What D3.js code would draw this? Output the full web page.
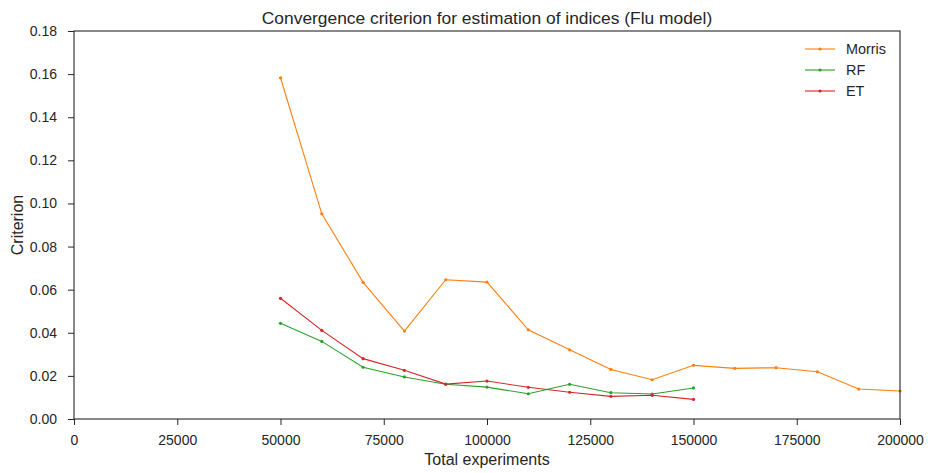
<!DOCTYPE html>
<html>
<head>
<meta charset="utf-8">
<script src="https://cdn.jsdelivr.net/npm/d3@7"></script>
<style>
  body { margin: 0; background: #fff; }
  svg { font-family: "Liberation Sans", Arial, sans-serif; }
  .axis path, .axis line { stroke: #262626; }
  .axis text { fill: #262626; font-size: 14px; }
</style>
</head>
<body>
<svg id="chart" width="928" height="473"></svg>
<script>
// experiment counts for each series
var morrisX = [50000, 60000, 70000, 80000, 90000, 100000, 110000, 120000, 130000, 140000, 150000, 160000, 170000, 180000, 190000, 200000];
var morrisY = [0.1583, 0.0952, 0.0634, 0.0408, 0.0646, 0.0635, 0.0414, 0.0321, 0.0230, 0.0182, 0.0249, 0.0235, 0.0238, 0.0219, 0.0139, 0.0130];
var treeX = [50000, 60000, 70000, 80000, 90000, 100000, 110000, 120000, 130000, 140000, 150000];
var rfY = [0.0444, 0.0360, 0.0240, 0.0195, 0.0161, 0.0148, 0.0117, 0.0161, 0.0122, 0.0116, 0.0144];
var etY = [0.0560, 0.0411, 0.0280, 0.0226, 0.0162, 0.0176, 0.0147, 0.0124, 0.0105, 0.0110, 0.0091];
var xTicks = [0, 25000, 50000, 75000, 100000, 125000, 150000, 175000, 200000];
var yTicks = [0, 0.02, 0.04, 0.06, 0.08, 0.10, 0.12, 0.14, 0.16, 0.18];

var series = [
	{ name: 'Morris', color: '#ff7f0e', xs: morrisX, ys: morrisY },
	{ name: 'RF', color: '#2ca02c', xs: treeX, ys: rfY },
	{ name: 'ET', color: '#d62728', xs: treeX, ys: etY }
];

var margin = { top: 31, right: 28, bottom: 54, left: 74 },
	width = 928 - margin.left - margin.right,
	height = 473 - margin.top - margin.bottom;

var svg = d3.select('#chart');
var g = svg.append('g').attr('transform', 'translate(' + margin.left + ',' + margin.top + ')');

var x = d3.scaleLinear().domain([0, 200000]).range([0, width]);
var y = d3.scaleLinear().domain([0, 0.18]).range([height, 0]);

var line = d3.line()
	.x(function(d) { return x(d[0]); })
	.y(function(d) { return y(d[1]); });

series.forEach(function(s) {
	var pts = s.xs.map(function(v, i) { return [v, s.ys[i]]; });
	g.append('path')
		.datum(pts)
		.attr('fill', 'none')
		.attr('stroke', s.color)
		.attr('stroke-width', 1.1)
		.attr('d', line);
	g.selectAll(null)
		.data(pts)
		.enter()
		.append('circle')
		.attr('cx', function(d) { return x(d[0]); })
		.attr('cy', function(d) { return y(d[1]); })
		.attr('r', 1.6)
		.attr('fill', s.color);
});

// frame
g.append('rect')
	.attr('width', width)
	.attr('height', height)
	.attr('fill', 'none')
	.attr('stroke', '#262626')
	.attr('stroke-width', 1.1);

g.append('g')
	.attr('class', 'axis')
	.attr('transform', 'translate(0,' + height + ')')
	.call(d3.axisBottom(x).tickValues(xTicks).tickFormat(d3.format('d')).tickSize(6).tickPadding(10))
	.call(function(a) { a.select('.domain').remove(); });

g.append('g')
	.attr('class', 'axis')
	.call(d3.axisLeft(y).tickValues(yTicks).tickFormat(d3.format('.2f')).tickSize(6).tickPadding(11))
	.call(function(a) { a.select('.domain').remove(); });

svg.append('text')
	.attr('x', margin.left + width / 2)
	.attr('y', 24)
	.attr('text-anchor', 'middle')
	.attr('font-size', '17.4px')
	.attr('fill', '#262626')
	.text('Convergence criterion for estimation of indices (Flu model)');

svg.append('text')
	.attr('x', margin.left + width / 2)
	.attr('y', 465)
	.attr('text-anchor', 'middle')
	.attr('font-size', '16px')
	.attr('fill', '#262626')
	.text('Total experiments');

svg.append('text')
	.attr('transform', 'translate(23,' + (margin.top + height / 2) + ') rotate(-90)')
	.attr('text-anchor', 'middle')
	.attr('font-size', '16px')
	.attr('fill', '#262626')
	.text('Criterion');

// legend
var legend = svg.append('g').attr('transform', 'translate(805,49)');
series.forEach(function(s, i) {
	var row = legend.append('g').attr('transform', 'translate(0,' + (i * 21) + ')');
	row.append('line').attr('x1', 0).attr('x2', 30).attr('stroke', s.color).attr('stroke-width', 1.1);
	row.append('circle').attr('cx', 15).attr('r', 1.6).attr('fill', s.color);
	row.append('text').attr('x', 41).attr('y', 5).attr('font-size', '14.4px').attr('fill', '#262626').text(s.name);
});
</script>
</body>
</html>
